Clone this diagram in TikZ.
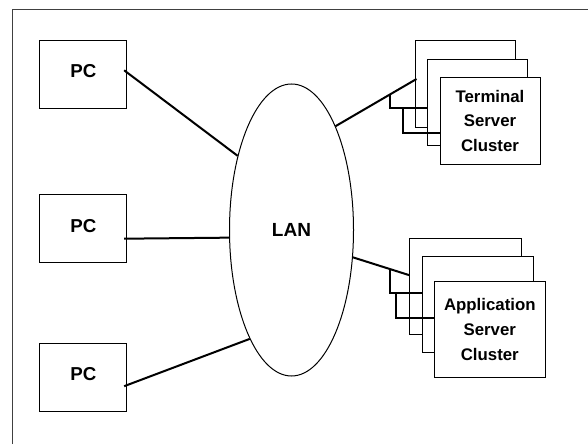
\documentclass[tikz,border=0pt]{standalone}
\usepackage{fontspec}
\setmainfont{Liberation Sans}
\usetikzlibrary{shapes.geometric}

\begin{document}
\begin{tikzpicture}[x=1pt,y=1pt,
  box/.style={draw,line width=1pt,fill=white,inner sep=0pt},
  pcbox/.style={box,minimum width=86.7pt,minimum height=68pt,text depth=6pt,
    font=\fontsize{18.7}{22}\selectfont\bfseries},
  tsbox/.style={box,minimum width=100pt,minimum height=86.5pt,align=center,
    font=\fontsize{16.8}{24.4}\selectfont\bfseries},
  asbox/.style={box,minimum width=111.3pt,minimum height=95.7pt,align=center,
    font=\fontsize{16.8}{24.8}\selectfont\bfseries},
  link/.style={line width=2pt}]
\useasboundingbox (0,0) rectangle (588,444);
\draw[line width=1.3pt,black!75] (12.7,0) |- (588,434.3);

\node[pcbox](pc1) at (83.3,369.7) {PC};
\node[pcbox](pc2) at (83.3,215.3) {PC};
\node[pcbox](pc3) at (83.3,66.8) {PC};

\node[ellipse,draw,line width=1pt,minimum width=124pt,minimum height=292pt,inner sep=0pt,
  font=\fontsize{19}{22}\selectfont\bfseries](lan) at (291.5,214) {LAN};

\node[tsbox](ts1) at (465,360) {};
\node[tsbox](ts2) at (477.5,341.5) {};
\node[tsbox](ts3) at (490,323.2) {Terminal\\Server\\Cluster};

\node[asbox](as1) at (465.5,157.8) {};
\node[asbox](as2) at (477.7,139.3) {};
\node[asbox](as3) at (489.8,114.7) {Application\\Server\\Cluster};

\draw[link] ([shift={(-3,4)}]pc1.east) -- (lan.126);
\draw[link] ([shift={(-3,-10)}]pc2.east) -- (lan.187);
\draw[link] ([shift={(-3,-9)}]pc3.east) -- (lan.249);

\draw[link] (lan.67) -- coordinate[pos=.675] (tj1) ([shift={(2,5)}]ts1.west);
\draw[link] (tj1) |- coordinate[pos=.67] (tj2) ([yshift=-6]ts2.west);
\draw[link] (tj2) |- ([yshift=-12.5]ts3.west);

\draw[link] (lan.336) -- coordinate[pos=.66] (aj1) ([yshift=11]as1.west);
\draw[link] (aj1) |- coordinate[pos=.596] (aj2) ([yshift=11.4]as2.west);
\draw[link] (aj2) |- ([yshift=11]as3.west);
\end{tikzpicture}
\end{document}
